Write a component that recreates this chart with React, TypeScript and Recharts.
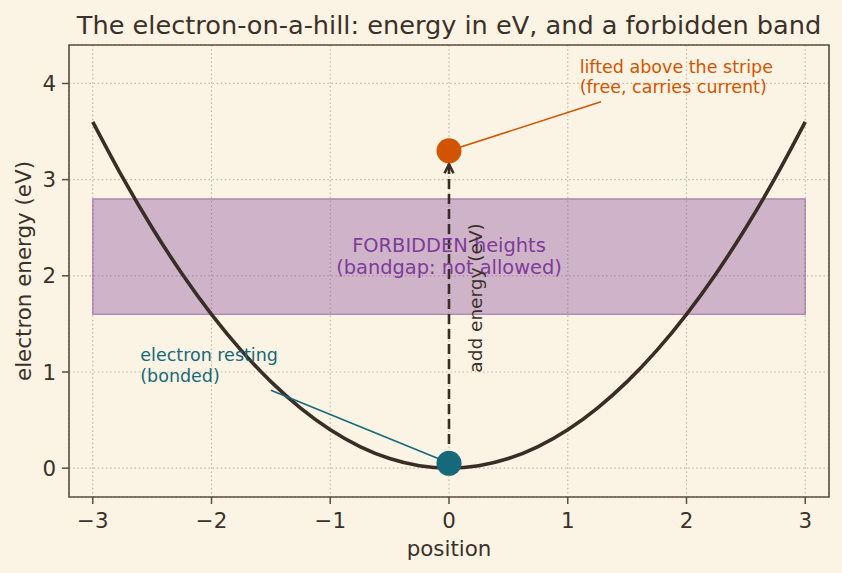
import React from "react";
import {
  ComposedChart,
  Line,
  Scatter,
  XAxis,
  YAxis,
  CartesianGrid,
  ReferenceArea,
  ReferenceLine,
  ReferenceDot,
  Label,
} from "recharts";

const FONT = "'DejaVu Sans', sans-serif";
const BG = "#fbf3e4";
const INK = "#3b3128";
const FRAME = "#5b4f3f";
const CURVE = "#3a2d25";
const TEAL = "#16697a";
const ORANGE = "#d35400";
const PURPLE = "#7d3c98";
const GRID = "#c2b8a6";

// axes
const xTicks = [-3, -2, -1, 0, 1, 2, 3];
const yTicks = [0, 1, 2, 3, 4];
const xDomain = [-3.2, 3.2];
const yDomain = [-0.3, 4.4];

// the hill (energy vs position)
const hillX = [-3, -2.75, -2.5, -2.25, -2, -1.75, -1.5, -1.25, -1, -0.75, -0.5, -0.25, 0,
  0.25, 0.5, 0.75, 1, 1.25, 1.5, 1.75, 2, 2.25, 2.5, 2.75, 3];
const hillY = [3.6, 3.025, 2.5, 2.025, 1.6, 1.225, 0.9, 0.625, 0.4, 0.225, 0.1, 0.025, 0,
  0.025, 0.1, 0.225, 0.4, 0.625, 0.9, 1.225, 1.6, 2.025, 2.5, 3.025, 3.6];

// forbidden stripe
const bandX = [-3, 3];
const bandY = [1.6, 2.8];

// electrons
const restingElectron = [{ x: 0, y: 0.05 }];
const liftedElectron = [{ x: 0, y: 3.3 }];

// arrows
const liftArrow = [{ x: 0, y: 0.25 }, { x: 0, y: 3.16 }];
const restingPointer = [{ x: -1.5, y: 0.81 }, { x: -0.03, y: 0.07 }];
const liftedPointer = [{ x: 1.28, y: 3.81 }, { x: 0, y: 3.3 }];

// text anchors
const bandText = { x: 0, y: 2.2 };
const liftText = { x: 0.22, y: 1.77 };
const restingText = { x: -2.6, y: 0.9 };
const liftedText = { x: 1.1, y: 3.9 };

const hill = hillX.map((x, i) => ({ x, y: hillY[i] }));

function fmt(v: number) {
  return v < 0 ? `\u2212${Math.abs(v)}` : `${v}`;
}

function arrow(color: string, width: number, dash: string | undefined, head: number) {
  // eslint-disable-next-line @typescript-eslint/no-explicit-any
  return (p: any) => {
    const { x1, y1, x2, y2 } = p;
    const a = Math.atan2(y2 - y1, x2 - x1);
    const bx = x2 - head * Math.cos(a);
    const by = y2 - head * Math.sin(a);
    const nx = -Math.sin(a) * head * 0.5;
    const ny = Math.cos(a) * head * 0.5;
    return (
      <g>
        <line x1={x1} y1={y1} x2={x2} y2={y2} stroke={color} strokeWidth={width} strokeDasharray={dash} />
        {head > 0 && (
          <polyline
            points={`${bx + nx},${by + ny} ${x2},${y2} ${bx - nx},${by - ny}`}
            fill="none"
            stroke={color}
            strokeWidth={width}
          />
        )}
      </g>
    );
  };
}

function dot(color: string) {
  // eslint-disable-next-line @typescript-eslint/no-explicit-any
  return (p: any) => <circle cx={p.cx} cy={p.cy} r={12.5} fill={color} />;
}

export default function App() {
  return (
    <div style={{ position: "absolute", left: 0, top: 0, width: 842, height: 573, background: BG, fontFamily: FONT }}>
      <svg width={842} height={573} style={{ position: "absolute", left: 0, top: 0 }}>
        <text x={449} y={33.5} textAnchor="middle" fontSize={25.6} fill={INK} fontFamily={FONT}>
          The electron-on-a-hill: energy in eV, and a forbidden band
        </text>
      </svg>
      <div style={{ position: "absolute", left: 0, top: 0 }}>
        <ComposedChart width={842} height={573} margin={{ top: 45, right: 13, left: 0, bottom: 0 }}>
          <CartesianGrid stroke={GRID} strokeDasharray="1.5 2.6" strokeWidth={1.2} />
          <XAxis
            dataKey="x"
            type="number"
            domain={xDomain}
            ticks={xTicks}
            allowDataOverflow
            height={76}
            tickFormatter={fmt}
            tick={{ fontSize: 21.4, fill: INK, fontFamily: FONT }}
            tickLine={{ stroke: FRAME, strokeWidth: 1.5 }}
            axisLine={false}
            tickSize={7}
            tickMargin={9}
          >
            <Label
              // eslint-disable-next-line @typescript-eslint/no-explicit-any
              content={(p: any) => (
                <text x={p.viewBox.x + p.viewBox.width / 2} y={p.viewBox.y + 59} textAnchor="middle"
                  fontSize={21.4} fill={INK} fontFamily={FONT}>
                  position
                </text>
              )}
            />
          </XAxis>
          <YAxis
            type="number"
            domain={yDomain}
            ticks={yTicks}
            allowDataOverflow
            width={69}
            tickFormatter={fmt}
            tick={{ fontSize: 21.4, fill: INK, fontFamily: FONT }}
            tickLine={{ stroke: FRAME, strokeWidth: 1.5 }}
            axisLine={false}
            tickSize={7}
            tickMargin={6}
          >
            <Label
              // eslint-disable-next-line @typescript-eslint/no-explicit-any
              content={(p: any) => {
                const cy = p.viewBox.y + p.viewBox.height / 2;
                return (
                  <text x={31} y={cy} transform={`rotate(-90, 31, ${cy})`} textAnchor="middle"
                    fontSize={21.4} fill={INK} fontFamily={FONT}>
                    electron energy (eV)
                  </text>
                );
              }}
            />
          </YAxis>

          <ReferenceArea
            x1={bandX[0]}
            x2={bandX[1]}
            y1={bandY[0]}
            y2={bandY[1]}
            fill={PURPLE}
            fillOpacity={0.35}
            stroke={PURPLE}
            strokeOpacity={0.55}
            strokeWidth={1.2}
          />

          <Line
            data={hill}
            dataKey="y"
            type="monotone"
            stroke={CURVE}
            strokeWidth={3.6}
            dot={false}
            isAnimationActive={false}
          />

          <ReferenceLine segment={liftArrow} shape={arrow(CURVE, 2.6, "10 5", 9)} />
          <ReferenceLine segment={restingPointer} shape={arrow(TEAL, 1.6, undefined, 7)} />
          <ReferenceLine segment={liftedPointer} shape={arrow(ORANGE, 1.6, undefined, 0)} />

          <Scatter data={restingElectron} dataKey="y" shape={dot(TEAL)} isAnimationActive={false} />
          <Scatter data={liftedElectron} dataKey="y" shape={dot(ORANGE)} isAnimationActive={false} />

          <ReferenceDot
            x={bandText.x}
            y={bandText.y}
            r={0}
            // eslint-disable-next-line @typescript-eslint/no-explicit-any
            shape={(p: any) => (
              <text x={p.cx} y={p.cy} textAnchor="middle" fontSize={19.4} fill={PURPLE} fontFamily={FONT}>
                <tspan x={p.cx} dy={-5}>FORBIDDEN heights</tspan>
                <tspan x={p.cx} dy={22}>(bandgap: not allowed)</tspan>
              </text>
            )}
          />
          <ReferenceDot
            x={liftText.x}
            y={liftText.y}
            r={0}
            // eslint-disable-next-line @typescript-eslint/no-explicit-any
            shape={(p: any) => (
              <text x={p.cx} y={p.cy} dy="0.35em" transform={`rotate(-90, ${p.cx}, ${p.cy})`} textAnchor="middle"
                fontSize={18.5} fill={INK} fontFamily={FONT}>
                add energy (eV)
              </text>
            )}
          />
          <ReferenceDot
            x={restingText.x}
            y={restingText.y}
            r={0}
            // eslint-disable-next-line @typescript-eslint/no-explicit-any
            shape={(p: any) => (
              <text x={p.cx} y={p.cy} fontSize={17.5} fill={TEAL} fontFamily={FONT}>
                <tspan x={p.cx} dy={-20.5}>electron resting</tspan>
                <tspan x={p.cx} dy={20.5}>(bonded)</tspan>
              </text>
            )}
          />
          <ReferenceDot
            x={liftedText.x}
            y={liftedText.y}
            r={0}
            // eslint-disable-next-line @typescript-eslint/no-explicit-any
            shape={(p: any) => (
              <text x={p.cx} y={p.cy} fontSize={17.5} fill={ORANGE} fontFamily={FONT}>
                <tspan x={p.cx} dy={-20.5}>lifted above the stripe</tspan>
                <tspan x={p.cx} dy={20.5}>(free, carries current)</tspan>
              </text>
            )}
          />

          <ReferenceArea
            x1={xDomain[0]}
            x2={xDomain[1]}
            y1={yDomain[0]}
            y2={yDomain[1]}
            fill="none"
            stroke={FRAME}
            strokeWidth={1.6}
          />
        </ComposedChart>
      </div>
    </div>
  );
}
